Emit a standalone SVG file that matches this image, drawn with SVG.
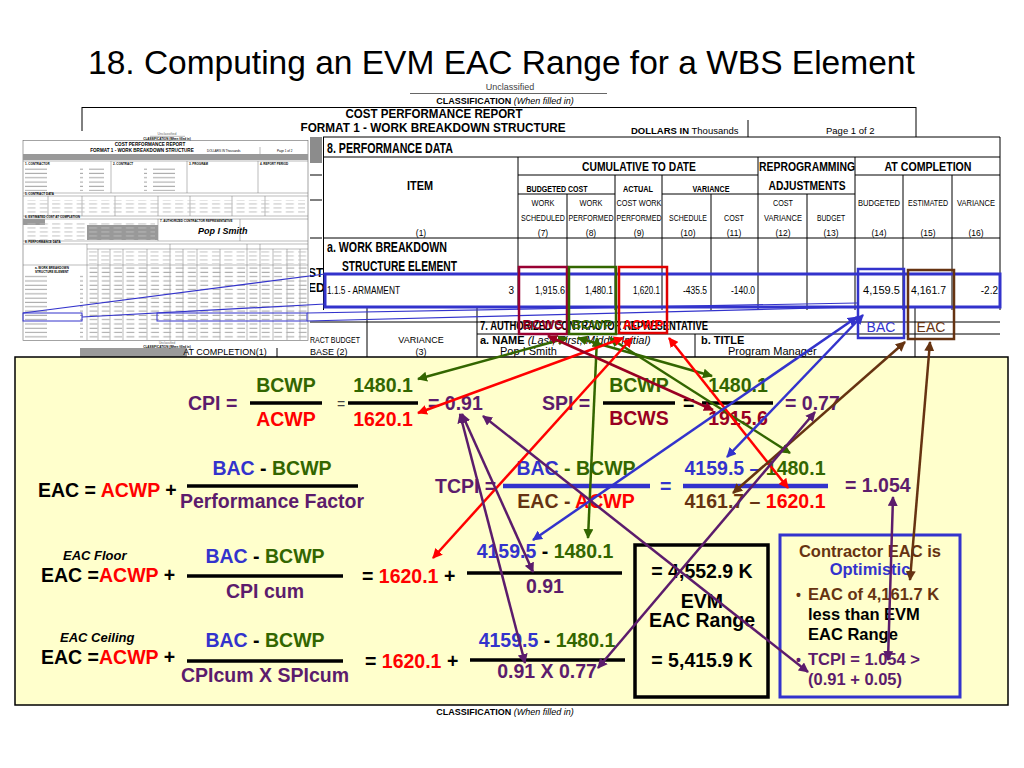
<svg xmlns="http://www.w3.org/2000/svg" width="1024" height="768" viewBox="0 0 1024 768">
<style>
text{font-family:"Liberation Sans",Arial,sans-serif}
.eq{font-size:19.5px;font-weight:bold}
.pu{fill:#5c1c6c}.gr{fill:#336600}.rd{fill:#ff0000}.dr{fill:#990022}.bl{fill:#3333cc}.br{fill:#663311}.bk{fill:#000}
.hd{font-weight:bold}
.sm{font-size:8.5px;font-weight:bold;text-anchor:middle}
.num{font-size:10px;text-anchor:end}
.fl{stroke:#000;stroke-width:3.5}
.tl{stroke:#000;stroke-width:1}
.ml{stroke:#777;stroke-width:0.5}
.mt{font-size:3px;font-weight:bold}
.cb{font-size:16.5px;font-weight:bold}
.a{fill:none;stroke-width:2.5}
.ag{stroke:#336600}.ar{stroke:#ff0000}.ad{stroke:#990022}.ab{stroke:#3333cc}.abr{stroke:#663311}.ap{stroke:#5c1c6c}
</style>
<defs>
<marker id="mG" viewBox="0 0 10 10" refX="9" refY="5" markerWidth="4" markerHeight="4" orient="auto-start-reverse"><path d="M0,0L10,5L0,10z" fill="#336600"/></marker>
<marker id="mR" viewBox="0 0 10 10" refX="9" refY="5" markerWidth="4" markerHeight="4" orient="auto-start-reverse"><path d="M0,0L10,5L0,10z" fill="#ff0000"/></marker>
<marker id="mD" viewBox="0 0 10 10" refX="9" refY="5" markerWidth="4" markerHeight="4" orient="auto-start-reverse"><path d="M0,0L10,5L0,10z" fill="#990022"/></marker>
<marker id="mB" viewBox="0 0 10 10" refX="9" refY="5" markerWidth="4" markerHeight="4" orient="auto-start-reverse"><path d="M0,0L10,5L0,10z" fill="#3333cc"/></marker>
<marker id="mBr" viewBox="0 0 10 10" refX="9" refY="5" markerWidth="4" markerHeight="4" orient="auto-start-reverse"><path d="M0,0L10,5L0,10z" fill="#663311"/></marker>
<marker id="mP" viewBox="0 0 10 10" refX="9" refY="5" markerWidth="4" markerHeight="4" orient="auto-start-reverse"><path d="M0,0L10,5L0,10z" fill="#5c1c6c"/></marker>
<pattern id="dat" x="87" y="266" width="12.3" height="4.3" patternUnits="userSpaceOnUse"><rect x="2.5" y="1.5" width="8" height="1.1" fill="#aaa"/></pattern>
<pattern id="itm" x="24" y="266" width="64" height="4.3" patternUnits="userSpaceOnUse"><rect x="1" y="1.5" width="22" height="1.1" fill="#aaa"/><rect x="56" y="1.5" width="3" height="1.1" fill="#aaa"/></pattern>
<pattern id="hdr" x="87" y="246" width="12.3" height="4" patternUnits="userSpaceOnUse"><rect x="2" y="1.5" width="8" height="0.9" fill="#bbb"/></pattern>
</defs>

<rect width="1024" height="768" fill="#fff"/>

<g id="title">
<text x="88" y="74" font-size="33.5">18. Computing an EVM EAC Range for a WBS Element</text>
</g>

<g id="cpr-form">
<text x="510" y="90" font-size="9" fill="#444" text-anchor="middle">Unclassified</text>
<line x1="410" y1="93.5" x2="607" y2="93.5" stroke="#666" stroke-width="1.2"/>
<text x="505" y="104" font-size="9" text-anchor="middle"><tspan font-weight="bold">CLASSIFICATION</tspan><tspan font-style="italic"> (When filled in)</tspan></text>
<line x1="82" y1="107.5" x2="916" y2="107.5" class="tl"/>
<line x1="82" y1="107" x2="82" y2="131" class="tl"/>
<line x1="916" y1="107" x2="916" y2="137" class="tl"/>
<line x1="748" y1="120" x2="748" y2="137" class="tl"/>
<text x="434" y="118" font-size="12" font-weight="bold" text-anchor="middle" textLength="177" lengthAdjust="spacingAndGlyphs">COST PERFORMANCE REPORT</text>
<text x="433" y="132" font-size="12" font-weight="bold" text-anchor="middle" textLength="265" lengthAdjust="spacingAndGlyphs">FORMAT 1 - WORK BREAKDOWN STRUCTURE</text>
<text x="631" y="134" font-size="9.5"><tspan font-weight="bold">DOLLARS IN</tspan><tspan>   Thousands</tspan></text>
<text x="826" y="134" font-size="9.5">Page 1 of 2</text>
<rect x="310" y="137" width="12" height="26" fill="#8c8c8c"/>
<line x1="308" y1="175" x2="322" y2="175" class="tl"/>
<line x1="308" y1="200" x2="322" y2="200" class="tl"/>
<line x1="308" y1="238" x2="322" y2="238" class="tl"/>
<line x1="323" y1="137" x2="1000" y2="137" class="tl"/>
<line x1="323" y1="157" x2="1000" y2="157" class="tl"/>
<line x1="323.5" y1="137" x2="323.5" y2="310" class="tl"/>
<line x1="1000" y1="137" x2="1000" y2="310" class="tl"/>
<line x1="518" y1="157" x2="518" y2="310" class="tl"/>
<line x1="567" y1="194" x2="567" y2="310" class="tl"/>
<line x1="615" y1="175" x2="615" y2="310" class="tl"/>
<line x1="662" y1="175" x2="662" y2="310" class="tl"/>
<line x1="711" y1="194" x2="711" y2="310" class="tl"/>
<line x1="758" y1="157" x2="758" y2="310" class="tl"/>
<line x1="807" y1="194" x2="807" y2="310" class="tl"/>
<line x1="855" y1="157" x2="855" y2="310" class="tl"/>
<line x1="903" y1="175" x2="903" y2="310" class="tl"/>
<line x1="952" y1="175" x2="952" y2="310" class="tl"/>
<line x1="518" y1="175" x2="758" y2="175" class="tl"/>
<line x1="855" y1="175" x2="1000" y2="175" class="tl"/>
<line x1="518" y1="194" x2="615" y2="194" class="tl"/>
<line x1="662" y1="194" x2="855" y2="194" class="tl"/>
<line x1="323" y1="238" x2="1000" y2="238" class="tl"/>
<text x="327" y="153" font-size="14" class="hd" textLength="126" lengthAdjust="spacingAndGlyphs">8.  PERFORMANCE DATA</text>
<text x="639" y="171" font-size="13" class="hd" text-anchor="middle" textLength="114" lengthAdjust="spacingAndGlyphs">CUMULATIVE TO DATE</text>
<text x="807" y="171" font-size="13" class="hd" text-anchor="middle" textLength="96" lengthAdjust="spacingAndGlyphs">REPROGRAMMING</text>
<text x="807" y="190" font-size="13" class="hd" text-anchor="middle" textLength="77" lengthAdjust="spacingAndGlyphs">ADJUSTMENTS</text>
<text x="928" y="171" font-size="13" class="hd" text-anchor="middle" textLength="87" lengthAdjust="spacingAndGlyphs">AT COMPLETION</text>
<text x="420" y="190" font-size="13" class="hd" text-anchor="middle" textLength="26" lengthAdjust="spacingAndGlyphs">ITEM</text>
<text x="557" y="192" class="sm" textLength="61" lengthAdjust="spacingAndGlyphs">BUDGETED COST</text>
<text x="638" y="192" class="sm" textLength="30" lengthAdjust="spacingAndGlyphs">ACTUAL</text>
<text x="711" y="192" class="sm" textLength="37" lengthAdjust="spacingAndGlyphs">VARIANCE</text>
<g font-size="8.5" text-anchor="middle">
<text x="543" y="206" textLength="23" lengthAdjust="spacingAndGlyphs">WORK</text>
<text x="543" y="221" textLength="44" lengthAdjust="spacingAndGlyphs">SCHEDULED</text>
<text x="543" y="236">(7)</text>
<text x="591" y="206" textLength="23" lengthAdjust="spacingAndGlyphs">WORK</text>
<text x="591" y="221" textLength="45" lengthAdjust="spacingAndGlyphs">PERFORMED</text>
<text x="591" y="236">(8)</text>
<text x="639" y="206" textLength="45" lengthAdjust="spacingAndGlyphs">COST WORK</text>
<text x="639" y="221" textLength="45" lengthAdjust="spacingAndGlyphs">PERFORMED</text>
<text x="639" y="236">(9)</text>
<text x="688" y="221" textLength="38" lengthAdjust="spacingAndGlyphs">SCHEDULE</text>
<text x="688" y="236">(10)</text>
<text x="734" y="221" textLength="20" lengthAdjust="spacingAndGlyphs">COST</text>
<text x="734" y="236">(11)</text>
<text x="783" y="206" textLength="20" lengthAdjust="spacingAndGlyphs">COST</text>
<text x="783" y="221" textLength="38" lengthAdjust="spacingAndGlyphs">VARIANCE</text>
<text x="783" y="236">(12)</text>
<text x="831" y="221" textLength="28" lengthAdjust="spacingAndGlyphs">BUDGET</text>
<text x="831" y="236">(13)</text>
<text x="879" y="206" textLength="42" lengthAdjust="spacingAndGlyphs">BUDGETED</text>
<text x="879" y="236">(14)</text>
<text x="928" y="206" textLength="40" lengthAdjust="spacingAndGlyphs">ESTIMATED</text>
<text x="928" y="236">(15)</text>
<text x="976" y="206" textLength="38" lengthAdjust="spacingAndGlyphs">VARIANCE</text>
<text x="976" y="236">(16)</text>
<text x="421" y="236">(1)</text>
</g>
<text x="327" y="252" font-size="14" class="hd" textLength="120" lengthAdjust="spacingAndGlyphs">a. WORK BREAKDOWN</text>
<text x="342" y="271" font-size="14" class="hd" textLength="115" lengthAdjust="spacingAndGlyphs">STRUCTURE ELEMENT</text>
<text x="308" y="277" font-size="12" class="hd">ST</text>
<text x="308" y="292" font-size="12" class="hd">ED</text>
<text x="327" y="294" font-size="10" textLength="73" lengthAdjust="spacingAndGlyphs">1.1.5 - ARMAMENT</text>
<text x="514" y="294" class="num">3</text>
<text x="565" y="294" class="num" textLength="30" lengthAdjust="spacingAndGlyphs">1,915.6</text>
<text x="613" y="294" class="num" textLength="28" lengthAdjust="spacingAndGlyphs">1,480.1</text>
<text x="660" y="294" class="num" textLength="27" lengthAdjust="spacingAndGlyphs">1,620.1</text>
<text x="707" y="294" class="num" textLength="24" lengthAdjust="spacingAndGlyphs">-435.5</text>
<text x="755" y="294" class="num" textLength="24" lengthAdjust="spacingAndGlyphs">-140.0</text>
<text x="900" y="294" class="num" textLength="37" lengthAdjust="spacingAndGlyphs">4,159.5</text>
<text x="946" y="294" class="num" textLength="35" lengthAdjust="spacingAndGlyphs">4,161.7</text>
<text x="998" y="294" class="num">-2.2</text>
<line x1="308" y1="322" x2="1000" y2="322" class="tl"/>
<line x1="367" y1="307" x2="367" y2="357" class="tl"/>
<line x1="477" y1="307" x2="477" y2="357" class="tl"/>
<line x1="477" y1="334" x2="1000" y2="334" class="tl"/>
<line x1="695" y1="334" x2="695" y2="357" class="tl"/>
<line x1="915" y1="307" x2="915" y2="357" class="tl"/>
<text x="480" y="330" font-size="13" class="hd" textLength="228" lengthAdjust="spacingAndGlyphs">7.  AUTHORIZED CONTRACTOR REPRESENTATIVE</text>
<text x="480" y="344" font-size="11"><tspan font-weight="bold">a.  NAME</tspan><tspan font-style="italic"> (Last, First, Middle Initial)</tspan></text>
<text x="500" y="354.5" font-size="11">Pop I Smith</text>
<text x="701" y="344" font-size="11" class="hd">b.  TITLE</text>
<text x="728" y="354.5" font-size="11">Program Manager</text>
<text x="310" y="343" font-size="9" textLength="50" lengthAdjust="spacingAndGlyphs">RACT BUDGET</text>
<text x="310" y="355" font-size="9">BASE (2)</text>
<text x="421" y="343" font-size="9" text-anchor="middle">VARIANCE</text>
<text x="421" y="355" font-size="9" text-anchor="middle">(3)</text>
<rect x="80" y="348" width="107" height="9" fill="#9a9a9a"/>
<line x1="277" y1="348" x2="277" y2="357" class="tl"/>
<text x="225" y="355" font-size="9" text-anchor="middle">AT COMPLETION(1)</text>
</g>

<g id="mini-form">
<rect x="15" y="131" width="295" height="216" fill="#fff"/>
<text x="167" y="135" font-size="3.5" fill="#666" text-anchor="middle">Unclassified</text>
<line x1="150" y1="136.3" x2="185" y2="136.3" class="ml"/>
<text x="167" y="139.6" class="mt" text-anchor="middle">CLASSIFICATION (When filled in)</text>
<rect x="23" y="140.5" width="285" height="200" fill="none" stroke="#666" stroke-width="0.6"/>
<text x="150" y="146" font-size="4.6" font-weight="bold" text-anchor="middle">COST PERFORMANCE REPORT</text>
<text x="142" y="152" font-size="4.6" font-weight="bold" text-anchor="middle">FORMAT 1 - WORK BREAKDOWN STRUCTURE</text>
<text x="207" y="152" font-size="3">DOLLARS IN  Thousands</text>
<text x="277" y="152" font-size="3">Page 1 of 2</text>
<line x1="260" y1="147" x2="260" y2="154" class="ml"/>
<rect x="23" y="154" width="285" height="6" fill="#999"/>
<g class="ml">
<line x1="23" y1="161" x2="308" y2="161"/>
<line x1="23" y1="193" x2="308" y2="193"/>
<line x1="23" y1="196" x2="308" y2="196"/>
<line x1="23" y1="216" x2="308" y2="216"/>
<line x1="23" y1="219" x2="308" y2="219"/>
<line x1="23" y1="241" x2="308" y2="241"/>
<line x1="23" y1="244" x2="308" y2="244"/>
<line x1="87" y1="249" x2="308" y2="249"/>
<line x1="23" y1="265" x2="308" y2="265"/>
<line x1="111" y1="161" x2="111" y2="193"/>
<line x1="187" y1="161" x2="187" y2="193"/>
<line x1="258" y1="161" x2="258" y2="193"/>
<line x1="48" y1="196" x2="48" y2="216"/>
<line x1="82" y1="196" x2="82" y2="216"/>
<line x1="115" y1="196" x2="115" y2="216"/>
<line x1="158" y1="196" x2="158" y2="216"/>
<line x1="190" y1="196" x2="190" y2="216"/>
<line x1="232" y1="196" x2="232" y2="216"/>
<line x1="265" y1="196" x2="265" y2="216"/>
<line x1="158" y1="219" x2="158" y2="241"/>
<line x1="240" y1="219" x2="240" y2="241"/>
<line x1="87" y1="244" x2="87" y2="340"/>
<line x1="98" y1="249" x2="98" y2="340"/>
<line x1="110" y1="249" x2="110" y2="340"/>
<line x1="123" y1="249" x2="123" y2="340"/>
<line x1="147" y1="249" x2="147" y2="340"/>
<line x1="170" y1="244" x2="170" y2="340"/>
<line x1="183" y1="249" x2="183" y2="340"/>
<line x1="197" y1="249" x2="197" y2="340"/>
<line x1="220" y1="249" x2="220" y2="340"/>
<line x1="247" y1="244" x2="247" y2="340"/>
<line x1="260" y1="244" x2="260" y2="340"/>
<line x1="273" y1="249" x2="273" y2="340"/>
<line x1="287" y1="249" x2="287" y2="340"/>
<line x1="300" y1="249" x2="300" y2="340"/>
</g>
<text x="25" y="164.5" class="mt">1. CONTRACTOR</text>
<text x="113" y="164.5" class="mt">2. CONTRACT</text>
<text x="189" y="164.5" class="mt">3. PROGRAM</text>
<text x="260" y="164.5" class="mt">4. REPORT PERIOD</text>
<text x="25" y="195.3" class="mt">5. CONTRACT DATA</text>
<text x="25" y="218.3" class="mt">6. ESTIMATED COST AT COMPLETION</text>
<text x="160" y="222.3" class="mt">7. AUTHORIZED CONTRACTOR REPRESENTATIVE</text>
<text x="25" y="243.3" class="mt">8. PERFORMANCE DATA</text>
<rect x="23" y="219" width="22" height="6" fill="#999"/>
<rect x="87" y="225" width="71" height="15" fill="#999"/>
<rect x="24" y="166" width="80" height="25" fill="url(#itm)"/>
<rect x="113" y="166" width="70" height="25" fill="url(#itm)"/>
<rect x="25" y="200" width="280" height="14" fill="url(#hdr)"/>
<rect x="25" y="222" width="130" height="18" fill="url(#hdr)"/>
<rect x="87" y="250" width="220" height="14" fill="url(#hdr)"/>
<text x="198" y="234" font-family="DejaVu Serif,serif" font-size="9" font-weight="bold" font-style="italic">Pop I Smith</text>
<text x="35" y="269" class="mt">a. WORK BREAKDOWN</text>
<text x="35" y="273" class="mt">STRUCTURE ELEMENT</text>
<rect x="24" y="274" width="63" height="66" fill="url(#itm)"/>
<rect x="87" y="266" width="221" height="74" fill="url(#dat)"/>
<text x="167" y="344" font-size="3" fill="#666" text-anchor="middle">Unclassified</text>
<text x="167" y="347.5" class="mt" text-anchor="middle">CLASSIFICATION (When filled in)</text>
</g>

<g id="highlights" fill="none">
<rect x="23" y="313" width="59" height="8" stroke="#3333cc" stroke-width="1"/>
<rect x="157" y="313" width="150" height="8" stroke="#3333cc" stroke-width="1"/>
<line x1="23" y1="313" x2="325" y2="274" stroke="#3333cc" stroke-width="1.2"/>
<line x1="82" y1="317" x2="325" y2="304" stroke="#3333cc" stroke-width="1.2"/>
<line x1="307" y1="313" x2="857" y2="303" stroke="#3333cc" stroke-width="1.2"/>
<line x1="307" y1="321" x2="857" y2="307" stroke="#3333cc" stroke-width="1.2"/>
<rect x="325" y="274" width="675" height="33" stroke="#3333cc" stroke-width="3"/>
<rect x="519" y="267" width="48" height="67" stroke="#990033" stroke-width="2.5"/>
<rect x="569" y="267" width="47" height="67" stroke="#336600" stroke-width="2.5"/>
<rect x="619" y="267" width="48" height="66" stroke="#e00000" stroke-width="2.5"/>
<rect x="858" y="269" width="46" height="69" stroke="#3333cc" stroke-width="2.5"/>
<rect x="908" y="270" width="46" height="69" stroke="#663311" stroke-width="2.5"/>
</g>
<g id="box-labels" font-size="13.5" font-weight="bold" text-anchor="middle">
<text x="543" y="329" class="dr">BCWS</text>
<text x="592" y="329" class="gr">BCWP</text>
<text x="643" y="329" class="rd">ACWP</text>
<text x="881" y="332" font-size="14" font-weight="normal" class="bl">BAC</text>
<text x="931" y="332" font-size="14" font-weight="normal" class="br">EAC</text>
</g>

<rect id="panel" x="15" y="357" width="993" height="348" fill="#ffffcc" stroke="#000" stroke-width="1.5"/>
<text x="505" y="715" font-size="9" text-anchor="middle"><tspan font-weight="bold">CLASSIFICATION</tspan><tspan font-style="italic"> (When filled in)</tspan></text>

<g id="cpi" class="eq">
<text x="188" y="410" class="pu">CPI =</text>
<line x1="250" y1="403" x2="322" y2="403" class="fl"/>
<text x="286" y="392" class="gr" text-anchor="middle">BCWP</text>
<text x="286" y="426" class="rd" text-anchor="middle">ACWP</text>
<text x="337" y="409" font-size="14" font-weight="normal" fill="#444">=</text>
<line x1="348" y1="403" x2="418" y2="403" class="fl"/>
<text x="383" y="392" class="gr" text-anchor="middle">1480.1</text>
<text x="383" y="426" class="rd" text-anchor="middle">1620.1</text>
<text x="428" y="410" class="pu">= 0.91</text>
</g>
<g id="spi" class="eq">
<text x="542" y="410" class="pu">SPI =</text>
<line x1="603" y1="403" x2="675" y2="403" class="fl"/>
<text x="639" y="392" class="gr" text-anchor="middle">BCWP</text>
<text x="639" y="425" class="dr" text-anchor="middle">BCWS</text>
<text x="683" y="410" class="bk">=</text>
<line x1="702" y1="403" x2="773" y2="403" class="fl"/>
<text x="738" y="392" class="gr" text-anchor="middle">1480.1</text>
<text x="738" y="425" class="dr" text-anchor="middle">1915.6</text>
<text x="785" y="410" class="pu">= 0.77</text>
</g>
<g id="eac" class="eq">
<text x="38" y="497"><tspan class="bk">EAC = </tspan><tspan class="rd">ACWP</tspan><tspan class="bk"> +</tspan></text>
<text x="272" y="475" text-anchor="middle"><tspan class="bl">BAC</tspan><tspan class="bk"> - </tspan><tspan class="gr">BCWP</tspan></text>
<line x1="187" y1="486" x2="358" y2="486" class="fl"/>
<text x="272" y="508" class="pu" text-anchor="middle">Performance Factor</text>
</g>
<g id="tcpi" class="eq">
<text x="435" y="493" class="pu">TCPI =</text>
<text x="576" y="475" text-anchor="middle"><tspan class="bl">BAC</tspan><tspan class="gr"> - BCWP</tspan></text>
<line x1="503" y1="486" x2="650" y2="486" stroke="#3333cc" stroke-width="4.5"/>
<text x="576" y="508" text-anchor="middle"><tspan class="br">EAC - </tspan><tspan class="rd">ACWP</tspan></text>
<text x="660" y="493" class="bl">=</text>
<text x="755" y="475" text-anchor="middle"><tspan class="bl">4159.5 –</tspan><tspan class="gr"> 1480.1</tspan></text>
<line x1="683" y1="486" x2="828" y2="486" stroke="#3333cc" stroke-width="4.5"/>
<text x="755" y="508" text-anchor="middle"><tspan class="br">4161.7 – </tspan><tspan class="rd">1620.1</tspan></text>
<text x="845" y="492" class="pu">=  1.054</text>
</g>
<g id="eac-floor" class="eq">
<text x="63" y="560" font-size="13" font-style="italic" class="bk">EAC Floor</text>
<text x="41" y="582"><tspan class="bk">EAC =</tspan><tspan class="rd">ACWP</tspan><tspan class="bk"> +</tspan></text>
<text x="265" y="563" text-anchor="middle"><tspan class="bl">BAC</tspan><tspan class="bk"> - </tspan><tspan class="gr">BCWP</tspan></text>
<line x1="187" y1="576" x2="343" y2="576" class="fl"/>
<text x="265" y="598" class="pu" text-anchor="middle">CPI cum</text>
<text x="362" y="583"><tspan class="bk">= </tspan><tspan class="rd">1620.1</tspan><tspan class="bk"> +</tspan></text>
<text x="545" y="558" text-anchor="middle"><tspan class="bl">4159.5</tspan><tspan class="bk"> -  </tspan><tspan class="gr">1480.1</tspan></text>
<line x1="467" y1="573" x2="622" y2="573" class="fl"/>
<text x="545" y="593" class="pu" text-anchor="middle">0.91</text>
</g>
<g id="eac-ceiling" class="eq">
<text x="60" y="642" font-size="13" font-style="italic" class="bk">EAC Ceiling</text>
<text x="41" y="664"><tspan class="bk">EAC =</tspan><tspan class="rd">ACWP</tspan><tspan class="bk"> +</tspan></text>
<text x="265" y="647" text-anchor="middle"><tspan class="bl">BAC</tspan><tspan class="bk"> - </tspan><tspan class="gr">BCWP</tspan></text>
<line x1="187" y1="661" x2="343" y2="661" class="fl"/>
<text x="265" y="682" class="pu" text-anchor="middle">CPIcum X SPIcum</text>
<text x="365" y="668"><tspan class="bk">= </tspan><tspan class="rd">1620.1</tspan><tspan class="bk"> +</tspan></text>
<text x="547" y="647" text-anchor="middle"><tspan class="bl">4159.5</tspan><tspan class="bk"> -  </tspan><tspan class="gr">1480.1</tspan></text>
<line x1="470" y1="660" x2="625" y2="660" class="fl"/>
<text x="547" y="678" class="pu" text-anchor="middle">0.91 X  0.77</text>
</g>
<g id="evm-range" class="eq" text-anchor="middle">
<rect x="635" y="545" width="133" height="152" fill="none" stroke="#000" stroke-width="3.5"/>
<text x="702" y="578" class="bk">= 4,552.9 K</text>
<text x="702" y="608" class="bk">EVM</text>
<text x="702" y="627" class="bk">EAC Range</text>
<text x="702" y="667" class="bk">= 5,415.9 K</text>
</g>
<g id="contractor-note" class="cb">
<rect x="780" y="535" width="180" height="162" fill="none" stroke="#3333cc" stroke-width="3"/>
<text x="870" y="557" class="br" text-anchor="middle">Contractor EAC is</text>
<text x="870" y="575" class="bl" text-anchor="middle">Optimistic</text>
<text x="796" y="600" class="br" font-size="14">•</text>
<text x="808" y="600" class="br">EAC of 4,161.7 K</text>
<text x="808" y="620" class="bk">less than EVM</text>
<text x="808" y="640" class="bk">EAC Range</text>
<text x="796" y="665" class="pu" font-size="14">•</text>
<text x="808" y="665" class="pu">TCPI = 1.054 &gt;</text>
<text x="808" y="685" class="pu">(0.91 + 0.05)</text>
</g>

<g id="connectors">
<line class="a ag" x1="567" y1="338" x2="418" y2="379" marker-start="url(#mG)" marker-end="url(#mG)"/>
<line class="a ag" x1="578" y1="338" x2="712" y2="376" marker-start="url(#mG)" marker-end="url(#mG)"/>
<line class="a ag" x1="610" y1="338" x2="790" y2="453" marker-start="url(#mG)" marker-end="url(#mG)"/>
<line class="a ag" x1="597" y1="338" x2="588" y2="538" marker-start="url(#mG)" marker-end="url(#mG)"/>
<line class="a ar" x1="623" y1="338" x2="418" y2="413" marker-start="url(#mR)" marker-end="url(#mR)"/>
<line class="a ar" x1="669" y1="338" x2="788" y2="488" marker-start="url(#mR)" marker-end="url(#mR)"/>
<line class="a ar" x1="632" y1="338" x2="433" y2="558" marker-start="url(#mR)" marker-end="url(#mR)"/>
<line class="a ad" x1="548" y1="336" x2="713" y2="410" marker-start="url(#mD)" marker-end="url(#mD)"/>
<line class="a ab" x1="857" y1="317" x2="533" y2="540" marker-start="url(#mB)" marker-end="url(#mB)"/>
<line class="a ab" x1="863" y1="315" x2="727" y2="457" marker-start="url(#mB)" marker-end="url(#mB)"/>
<line class="a abr" x1="905" y1="342" x2="733" y2="493" marker-start="url(#mBr)" marker-end="url(#mBr)"/>
<line class="a abr" x1="930" y1="342" x2="910" y2="580" marker-start="url(#mBr)" marker-end="url(#mBr)"/>
<line class="a ap" x1="460" y1="414" x2="525" y2="663" marker-start="url(#mP)" marker-end="url(#mP)"/>
<line class="a ap" x1="462" y1="414" x2="533" y2="572" marker-start="url(#mP)" marker-end="url(#mP)"/>
<line class="a ap" x1="483" y1="416" x2="808" y2="672" marker-start="url(#mP)" marker-end="url(#mP)"/>
<line class="a ap" x1="815" y1="412" x2="598" y2="668" marker-start="url(#mP)" marker-end="url(#mP)"/>
<line class="a ap" x1="893" y1="497" x2="888" y2="660" marker-start="url(#mP)" marker-end="url(#mP)"/>
</g>
</svg>
